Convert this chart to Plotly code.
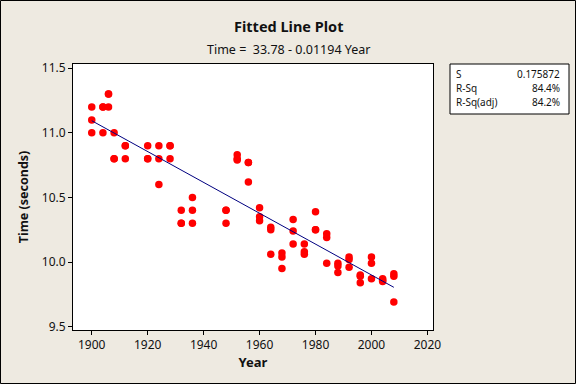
import plotly.graph_objects as go

# Olympic 100 m medal times (three per Games)
years = [1900, 1900, 1900, 1904, 1904, 1904, 1906, 1906, 1906, 1908, 1908, 1908,
         1912, 1912, 1912, 1920, 1920, 1920, 1924, 1924, 1924, 1928, 1928, 1928,
         1932, 1932, 1932, 1936, 1936, 1936, 1948, 1948, 1948, 1952, 1952, 1952,
         1956, 1956, 1956, 1960, 1960, 1960, 1964, 1964, 1964, 1968, 1968, 1968,
         1972, 1972, 1972, 1976, 1976, 1976, 1980, 1980, 1980, 1984, 1984, 1984,
         1988, 1988, 1988, 1992, 1992, 1992, 1996, 1996, 1996, 2000, 2000, 2000,
         2004, 2004, 2004, 2008, 2008, 2008]
times = [11.0, 11.1, 11.2, 11.0, 11.2, 11.2, 11.2, 11.3, 11.3, 10.8, 10.8, 11.0,
         10.8, 10.9, 10.9, 10.8, 10.8, 10.9, 10.6, 10.8, 10.9, 10.8, 10.9, 10.9,
         10.3, 10.3, 10.4, 10.3, 10.4, 10.5, 10.3, 10.4, 10.4, 10.79, 10.80, 10.83,
         10.62, 10.77, 10.77, 10.32, 10.35, 10.42, 10.06, 10.25, 10.27, 9.95, 10.04, 10.07,
         10.14, 10.24, 10.33, 10.06, 10.08, 10.14, 10.25, 10.25, 10.39, 9.99, 10.19, 10.22,
         9.92, 9.97, 9.99, 9.96, 10.02, 10.04, 9.84, 9.89, 9.90, 9.87, 9.99, 10.04,
         9.85, 9.86, 9.87, 9.69, 9.89, 9.91]

# Fitted regression (from the chart subtitle)
intercept = 33.78
slope = -0.01194
fit_x = [min(years), max(years)]
fit_y = [intercept + slope * x for x in fit_x]

stat_labels = ["S", "R-Sq", "R-Sq(adj)"]
stat_values = ["0.175872", "84.4%", "84.2%"]

x_ticks = [1900, 1920, 1940, 1960, 1980, 2000, 2020]
y_ticks = [9.5, 10.0, 10.5, 11.0, 11.5]

FONT = "Noto Sans, DejaVu Sans, sans-serif"
BG = "#EEEAE1"

fig = go.Figure()
fig.add_trace(go.Scatter(x=years, y=times, mode="markers",
                         marker=dict(color="#FF0000", size=7.5, line=dict(width=0)),
                         showlegend=False, hoverinfo="x+y"))
fig.add_trace(go.Scatter(x=fit_x, y=fit_y, mode="lines",
                         line=dict(color="#000080", width=1),
                         showlegend=False))

# plot area: x 73..433, y 64..330 in a 576x384 figure
L, R, T, B = 73, 143, 64, 54
PW, PH = 576 - L - R, 384 - T - B

def px(x):
    return (x - L) / PW

def py(y):
    return (384 - B - y) / PH

axis_common = dict(showgrid=False, zeroline=False, showline=True, linecolor="black",
                   linewidth=1, mirror=True, ticks="outside", ticklen=4,
                   tickcolor="black", tickwidth=1,
                   tickfont=dict(family=FONT, size=12, color="#111111"))

fig.update_layout(
    width=576, height=384,
    margin=dict(l=L, r=R, t=T, b=B, autoexpand=False),
    paper_bgcolor=BG, plot_bgcolor="white",
    font=dict(family=FONT, color="#111111"),
    xaxis=dict(range=[1893.3, 2022.0], tickvals=x_ticks,
               ticktext=[str(v) for v in x_ticks],
               title=dict(text="<b>Year</b>", font=dict(family=FONT, size=13), standoff=4),
               **axis_common),
    yaxis=dict(range=[9.474, 11.533], tickvals=y_ticks,
               ticktext=[f"{v:.1f}" for v in y_ticks],
               title=dict(text="<b>Time (seconds)</b>", font=dict(family=FONT, size=12.5), standoff=10),
               **axis_common),
)

annotations = [
    dict(text="<b>Fitted Line Plot</b>", x=px(288), y=py(38.5), xref="paper", yref="paper",
         xanchor="center", yanchor="bottom", showarrow=False,
         font=dict(family=FONT, size=14.5, color="#111111")),
    dict(text="Time =  33.78 - 0.01194 Year", x=px(288), y=py(39), xref="paper", yref="paper",
         xanchor="center", yanchor="top", showarrow=False,
         font=dict(family=FONT, size=12.5, color="#111111")),
]
row_y = [74, 88, 102]
for lab, val, ry in zip(stat_labels, stat_values, row_y):
    annotations.append(dict(text=lab, x=px(454), y=py(ry), xref="paper", yref="paper",
                            xanchor="left", yanchor="middle", showarrow=False,
                            font=dict(family=FONT, size=10, color="#111111")))
    annotations.append(dict(text=val, x=px(562), y=py(ry), xref="paper", yref="paper",
                            xanchor="right", yanchor="middle", showarrow=False,
                            font=dict(family=FONT, size=10, color="#111111")))
fig.update_layout(annotations=annotations)

fig.update_layout(shapes=[
    # stats box
    dict(type="rect", xref="paper", yref="paper", x0=px(450), x1=px(569),
         y0=py(114), y1=py(64), fillcolor="white", line=dict(color="black", width=1)),
    # outer frame
    dict(type="rect", xref="paper", yref="paper", x0=px(0.5), x1=px(575.5),
         y0=py(383.5), y1=py(0.5), line=dict(color="black", width=1), layer="above"),
])

fig.write_html("out.html", config={"displayModeBar": False},
               post_script="document.body.style.margin='0';document.body.style.overflow='hidden';")
